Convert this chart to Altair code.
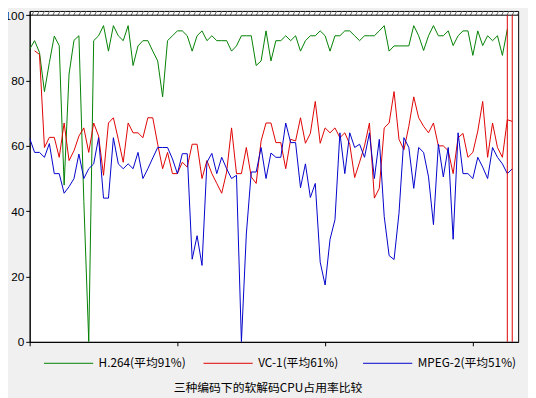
import altair as alt
import numpy as np
import pandas as pd

# ---------------- data ----------------
series_names = ["H.264(平均91%)", "VC-1(平均61%)", "MPEG-2(平均51%)"]
series_colors = ["#008000", "#e00000", "#0000cc"]

h264_start = 0
h264 = [89.6, 92.2, 88.6, 76.6, 85.5, 93.6, 90.7, 48, 82, 92.3,
        93.7, 43, 0, 92.2, 93.7, 96.8, 89, 96.8, 93.7, 92.2,
        96.8, 84.6, 90.6, 92.2, 92.2, 89, 86, 75, 92.2, 93.7,
        95.2, 95.2, 93.7, 89, 93.7, 95.2, 92.2, 93.7, 92.2, 92.2,
        92.2, 89, 90.6, 93.7, 93.7, 93.7, 84.6, 86, 95.2, 86,
        92.2, 92.2, 93.7, 92.2, 93.7, 89, 92.2, 93.7, 93.7, 95.2,
        93.7, 89, 93.7, 93.7, 95.2, 95.2, 93.7, 92.2, 93.7, 93.7,
        93.7, 95.2, 96.8, 89, 90.6, 90.6, 90.6, 90.6, 96.8, 93.7,
        89.2, 93.7, 96.8, 93.7, 93.7, 95.2, 90.7, 93.7, 95.2, 95.2,
        87.7, 95.2, 90.7, 93.7, 92.2, 93.7, 87.7, 95.7]

vc1_start = 1
vc1 = [89.1, 88, 59.5, 62.6, 62.6, 56.5, 67, 55.5, 58.5,
       63, 65.5, 58, 67, 63, 51, 67, 68.6, 62, 55,
       67, 64, 64, 62.5, 68.6, 68.6, 60.5, 53, 58, 51.5,
       51.5, 55, 53.5, 60.5, 60.5, 50, 55.5, 51.5, 48.5, 45.5,
       52, 65.5, 51.5, 51.5, 59.5, 50.5, 48.5, 61.5, 67, 67,
       61, 61, 53, 62, 61.5, 68.6, 60.8, 63.8, 73.6, 60.8,
       65.5, 64, 65.5, 62.5, 64, 60.5, 50.3, 55, 60, 67,
       44, 47, 65.5, 67, 76.6, 62, 58.8, 66, 75, 68.6,
       66, 64, 67, 60, 60, 58.5, 51.5, 62.5, 63.8, 56.5,
       58, 64.5, 73.6, 56.5, 67, 59.5, 56.5, 68, 67.5]
vc1_spikes = [97, 98]

mpeg2_start = 0
mpeg2 = [62.3, 58, 58, 56.5, 60.7, 51.5, 51.5, 45.5, 47.5, 50,
         57.5, 50, 53, 54.5, 62.5, 44, 44, 62.5, 54.5, 53,
         54.5, 53, 58, 50, 53, 56.3, 59.5, 59.5, 59.5, 56,
         51.5, 57.6, 57.6, 25.3, 32.5, 23.4, 55, 57.7, 51.5, 56.5,
         53, 50, 51, 0, 33, 52, 52, 59.5, 50, 57.8,
         56.5, 56.5, 67, 61, 61, 47.2, 54.5, 44.2, 48.5, 24.4,
         17.4, 31.4, 37.4, 64, 51.5, 64, 59.5, 60.5, 56.5, 64,
         50, 62, 38.4, 26.4, 25.2, 39.4, 62.5, 59.5, 47, 59.5,
         58, 50.5, 35.9, 60.5, 50.5, 59.5, 31.4, 64, 51.5, 51.5,
         50, 56.5, 53.5, 50, 59.5, 56.5, 54.5, 51.5, 53]

y_ticks = [0, 20, 40, 60, 80, 100]
x_ticks = [0, 30, 60, 90]
title_text = "三种编码下的软解码CPU占用率比较"

# ---------------- tables ----------------
rows = []
for name, start, vals in [(series_names[0], h264_start, h264),
                          (series_names[1], vc1_start, vc1),
                          (series_names[2], mpeg2_start, mpeg2)]:
    for i, v in enumerate(vals):
        rows.append({"t": start + i, "cpu": v, "series": name})
df = pd.DataFrame(rows)

spike_df = pd.DataFrame({"t": vc1_spikes, "lo": 0, "hi": 100})

X_MAX = 99.2
Y_MAX = 101.3
hx = np.arange(-0.6, X_MAX, 1.06)
hatch_df = pd.DataFrame({"x0": hx, "x1": hx + 0.45, "y0": 100.0, "y1": Y_MAX})

x_scale = alt.Scale(domain=[0, X_MAX], nice=False, zero=False)
y_scale = alt.Scale(domain=[0, Y_MAX], nice=False)
color_scale = alt.Scale(domain=series_names, range=series_colors)

x_axis = alt.Axis(values=x_ticks, labels=False, ticks=True, tickSize=4,
                  grid=False, title=None, domainColor="black", tickColor="black")
y_axis = alt.Axis(values=y_ticks, tickSize=4, grid=False, title=None,
                  domainColor="black", tickColor="black", labelColor="black",
                  labelFont="Liberation Sans", labelFontSize=12, labelPadding=2)

base = alt.Chart(df)

lines = base.mark_line(strokeWidth=1, clip=True).encode(
    x=alt.X("t:Q", scale=x_scale, axis=x_axis),
    y=alt.Y("cpu:Q", scale=y_scale, axis=y_axis),
    color=alt.Color("series:N", scale=color_scale, sort=series_names,
                    legend=alt.Legend(orient="none", legendX=14, legendY=332,
                                      direction="horizontal", columns=3,
                                      title=None, symbolType="stroke",
                                      symbolSize=2500, symbolStrokeWidth=1,
                                      labelFont="Noto Sans CJK SC",
                                      labelFontSize=12, labelColor="black",
                                      labelOffset=5, columnPadding=4,
                                      gridAlign="all", labelLimit=0)),
)

spikes = alt.Chart(spike_df).mark_rule(color=series_colors[1], strokeWidth=1).encode(
    x=alt.X("t:Q", scale=x_scale),
    y=alt.Y("lo:Q", scale=y_scale),
    y2="hi:Q",
)

hatch = alt.Chart(hatch_df).mark_rule(color="#666666", strokeWidth=1, clip=True).encode(
    x=alt.X("x0:Q", scale=x_scale),
    x2="x1:Q",
    y=alt.Y("y0:Q", scale=y_scale),
    y2="y1:Q",
)

top_line = alt.Chart(pd.DataFrame({"v": [100]})).mark_rule(color="black", strokeWidth=1).encode(
    y=alt.Y("v:Q", scale=y_scale)
)

chart = alt.layer(hatch, top_line, lines, spikes).properties(
    width=496,
    height=336,
    autosize=alt.AutoSizeParams(type="none"),
    padding={"left": 22, "top": 0, "right": 10, "bottom": 54},
    background="#f0f0f0",
    title=alt.TitleParams(title_text, orient="bottom", anchor="middle",
                          font="Noto Sans CJK SC", fontSize=12,
                          fontWeight="normal", color="black", offset=14, dx=-6),
).configure_view(
    stroke="black", strokeWidth=1, fill="white"
)

chart.save("out.html", embed_options={"renderer": "svg", "actions": False})
